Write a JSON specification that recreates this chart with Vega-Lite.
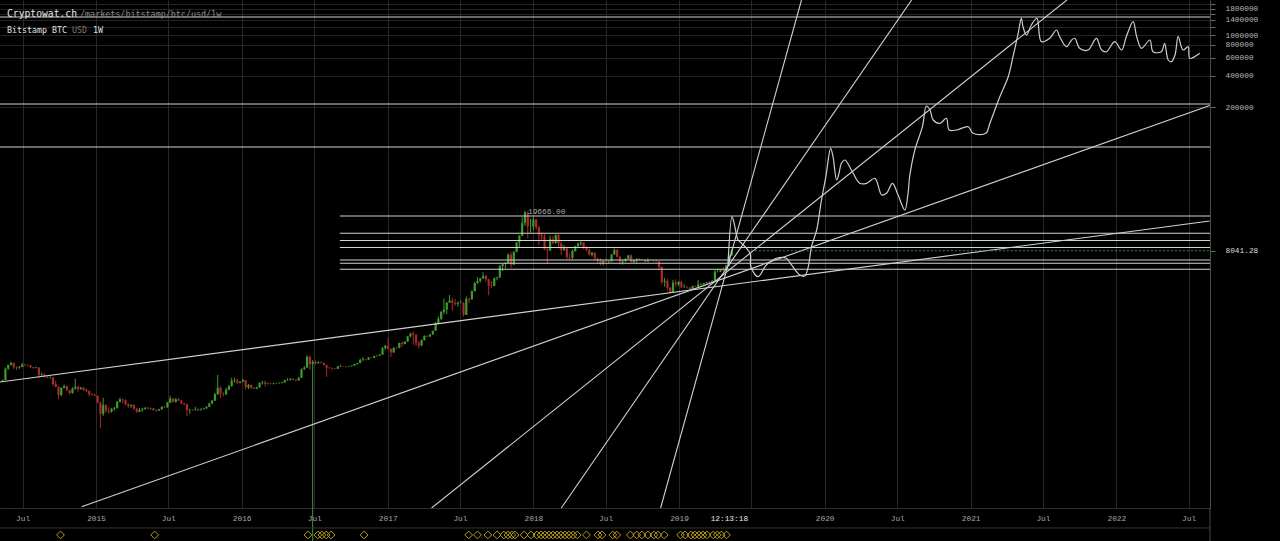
{
"$schema": "https://vega.github.io/schema/vega-lite/v6.json",
"width": 1210, "height": 508, "padding": {"left": 0, "top": 0, "right": 70, "bottom": 33}, "autosize": {"type": "none"},
"background": "#000000",
"config": {"view": {"stroke": null}, "text": {"font": "DejaVu Sans Mono"}},
"datasets": {
"one": [{}],
"candles": [
{"t":"2014-05-12","o":440,"h":452,"l":432,"c":447},{"t":"2014-05-19","o":447,"h":590,"l":445,"c":575},{"t":"2014-05-26","o":575,"h":630,"l":560,"c":625},{"t":"2014-06-02","o":625,"h":675,"l":620,"c":655},{"t":"2014-06-09","o":655,"h":660,"l":570,"c":595},{"t":"2014-06-16","o":595,"h":610,"l":560,"c":590},{"t":"2014-06-23","o":590,"h":610,"l":575,"c":600},{"t":"2014-06-30","o":600,"h":655,"l":595,"c":630},{"t":"2014-07-07","o":630,"h":640,"l":610,"c":625},{"t":"2014-07-14","o":625,"h":630,"l":605,"c":620},{"t":"2014-07-21","o":620,"h":625,"l":585,"c":595},{"t":"2014-07-28","o":595,"h":600,"l":575,"c":585},{"t":"2014-08-04","o":585,"h":600,"l":580,"c":590},{"t":"2014-08-11","o":590,"h":595,"l":470,"c":500},{"t":"2014-08-18","o":500,"h":530,"l":480,"c":505},{"t":"2014-08-25","o":505,"h":520,"l":475,"c":480},{"t":"2014-09-01","o":480,"h":490,"l":465,"c":475},{"t":"2014-09-08","o":475,"h":485,"l":460,"c":475},{"t":"2014-09-15","o":475,"h":480,"l":390,"c":410},{"t":"2014-09-22","o":410,"h":440,"l":380,"c":385},{"t":"2014-09-29","o":385,"h":390,"l":290,"c":320},{"t":"2014-10-06","o":320,"h":380,"l":310,"c":375},{"t":"2014-10-13","o":375,"h":405,"l":370,"c":390},{"t":"2014-10-20","o":390,"h":395,"l":350,"c":355},{"t":"2014-10-27","o":355,"h":360,"l":320,"c":335},{"t":"2014-11-03","o":335,"h":380,"l":330,"c":370},{"t":"2014-11-10","o":370,"h":460,"l":360,"c":385},{"t":"2014-11-17","o":385,"h":390,"l":345,"c":365},{"t":"2014-11-24","o":365,"h":385,"l":360,"c":375},{"t":"2014-12-01","o":375,"h":385,"l":350,"c":360},{"t":"2014-12-08","o":360,"h":370,"l":340,"c":350},{"t":"2014-12-15","o":350,"h":355,"l":310,"c":325},{"t":"2014-12-22","o":325,"h":335,"l":315,"c":320},{"t":"2014-12-29","o":320,"h":330,"l":310,"c":315},
{"t":"2015-01-05","o":315,"h":315,"l":265,"c":270},{"t":"2015-01-12","o":270,"h":275,"l":152,"c":210},{"t":"2015-01-19","o":210,"h":300,"l":200,"c":255},{"t":"2015-01-26","o":255,"h":260,"l":215,"c":225},{"t":"2015-02-02","o":225,"h":245,"l":210,"c":220},{"t":"2015-02-09","o":220,"h":240,"l":215,"c":235},{"t":"2015-02-16","o":235,"h":245,"l":225,"c":240},{"t":"2015-02-23","o":240,"h":280,"l":235,"c":275},{"t":"2015-03-02","o":275,"h":300,"l":270,"c":290},{"t":"2015-03-09","o":290,"h":295,"l":265,"c":285},{"t":"2015-03-16","o":285,"h":290,"l":255,"c":260},{"t":"2015-03-23","o":260,"h":265,"l":240,"c":250},{"t":"2015-03-30","o":250,"h":260,"l":240,"c":255},{"t":"2015-04-06","o":255,"h":260,"l":230,"c":235},{"t":"2015-04-13","o":235,"h":240,"l":215,"c":220},{"t":"2015-04-20","o":220,"h":240,"l":218,"c":230},{"t":"2015-04-27","o":230,"h":240,"l":220,"c":235},{"t":"2015-05-04","o":235,"h":245,"l":230,"c":240},{"t":"2015-05-11","o":240,"h":245,"l":232,"c":237},{"t":"2015-05-18","o":237,"h":242,"l":230,"c":238},{"t":"2015-05-25","o":238,"h":240,"l":225,"c":228},{"t":"2015-06-01","o":228,"h":232,"l":220,"c":225},{"t":"2015-06-08","o":225,"h":235,"l":224,"c":232},{"t":"2015-06-15","o":232,"h":250,"l":230,"c":245},{"t":"2015-06-22","o":245,"h":250,"l":240,"c":243},{"t":"2015-06-29","o":243,"h":275,"l":240,"c":270},{"t":"2015-07-06","o":270,"h":315,"l":265,"c":295},{"t":"2015-07-13","o":295,"h":300,"l":270,"c":275},{"t":"2015-07-20","o":275,"h":300,"l":270,"c":290},{"t":"2015-07-27","o":290,"h":298,"l":280,"c":282},{"t":"2015-08-03","o":282,"h":285,"l":260,"c":264},{"t":"2015-08-10","o":264,"h":268,"l":255,"c":260},{"t":"2015-08-17","o":260,"h":265,"l":200,"c":228},{"t":"2015-08-24","o":228,"h":235,"l":210,"c":230},{"t":"2015-08-31","o":230,"h":232,"l":225,"c":228},{"t":"2015-09-07","o":228,"h":245,"l":225,"c":230},{"t":"2015-09-14","o":230,"h":235,"l":225,"c":232},{"t":"2015-09-21","o":232,"h":238,"l":225,"c":234},{"t":"2015-09-28","o":234,"h":240,"l":230,"c":237},{"t":"2015-10-05","o":237,"h":250,"l":235,"c":245},{"t":"2015-10-12","o":245,"h":270,"l":243,"c":265},{"t":"2015-10-19","o":265,"h":285,"l":260,"c":282},{"t":"2015-10-26","o":282,"h":335,"l":280,"c":325},{"t":"2015-11-02","o":325,"h":500,"l":320,"c":375},{"t":"2015-11-09","o":375,"h":390,"l":300,"c":330},{"t":"2015-11-16","o":330,"h":340,"l":310,"c":325},{"t":"2015-11-23","o":325,"h":375,"l":320,"c":360},{"t":"2015-11-30","o":360,"h":400,"l":355,"c":390},{"t":"2015-12-07","o":390,"h":470,"l":385,"c":440},{"t":"2015-12-14","o":440,"h":470,"l":420,"c":445},{"t":"2015-12-21","o":445,"h":460,"l":410,"c":420},{"t":"2015-12-28","o":420,"h":435,"l":415,"c":430},
{"t":"2016-01-04","o":430,"h":460,"l":425,"c":445},{"t":"2016-01-11","o":445,"h":450,"l":360,"c":380},{"t":"2016-01-18","o":380,"h":410,"l":365,"c":400},{"t":"2016-01-25","o":400,"h":405,"l":365,"c":375},{"t":"2016-02-01","o":375,"h":380,"l":365,"c":370},{"t":"2016-02-08","o":370,"h":385,"l":365,"c":380},{"t":"2016-02-15","o":380,"h":425,"l":375,"c":420},{"t":"2016-02-22","o":420,"h":440,"l":405,"c":425},{"t":"2016-02-29","o":425,"h":440,"l":385,"c":410},{"t":"2016-03-07","o":410,"h":420,"l":405,"c":412},{"t":"2016-03-14","o":412,"h":420,"l":405,"c":410},{"t":"2016-03-21","o":410,"h":420,"l":405,"c":415},{"t":"2016-03-28","o":415,"h":420,"l":410,"c":417},{"t":"2016-04-04","o":417,"h":425,"l":412,"c":420},{"t":"2016-04-11","o":420,"h":430,"l":415,"c":425},{"t":"2016-04-18","o":425,"h":450,"l":420,"c":445},{"t":"2016-04-25","o":445,"h":465,"l":440,"c":450},{"t":"2016-05-02","o":450,"h":465,"l":440,"c":460},{"t":"2016-05-09","o":460,"h":462,"l":445,"c":450},{"t":"2016-05-16","o":450,"h":455,"l":435,"c":445},{"t":"2016-05-23","o":445,"h":480,"l":440,"c":470},{"t":"2016-05-30","o":470,"h":580,"l":468,"c":570},{"t":"2016-06-06","o":570,"h":610,"l":560,"c":590},{"t":"2016-06-13","o":590,"h":780,"l":585,"c":750},{"t":"2016-06-20","o":750,"h":770,"l":560,"c":640},{"t":"2016-06-27","o":640,"h":700,"l":5,"c":670},{"t":"2016-07-04","o":670,"h":690,"l":630,"c":650},{"t":"2016-07-11","o":650,"h":680,"l":645,"c":665},{"t":"2016-07-18","o":665,"h":675,"l":650,"c":655},{"t":"2016-07-25","o":655,"h":660,"l":620,"c":625},{"t":"2016-08-01","o":625,"h":630,"l":480,"c":590},{"t":"2016-08-08","o":590,"h":600,"l":575,"c":585},{"t":"2016-08-15","o":585,"h":590,"l":565,"c":580},{"t":"2016-08-22","o":580,"h":585,"l":570,"c":575},{"t":"2016-08-29","o":575,"h":615,"l":570,"c":605},{"t":"2016-09-05","o":605,"h":630,"l":600,"c":610},{"t":"2016-09-12","o":610,"h":612,"l":600,"c":608},{"t":"2016-09-19","o":608,"h":612,"l":590,"c":605},{"t":"2016-09-26","o":605,"h":615,"l":600,"c":610},{"t":"2016-10-03","o":610,"h":625,"l":605,"c":618},{"t":"2016-10-10","o":618,"h":645,"l":615,"c":640},{"t":"2016-10-17","o":640,"h":655,"l":630,"c":655},{"t":"2016-10-24","o":655,"h":720,"l":650,"c":700},{"t":"2016-10-31","o":700,"h":745,"l":680,"c":710},{"t":"2016-11-07","o":710,"h":720,"l":690,"c":705},{"t":"2016-11-14","o":705,"h":750,"l":700,"c":740},{"t":"2016-11-21","o":740,"h":745,"l":725,"c":735},{"t":"2016-11-28","o":735,"h":770,"l":730,"c":765},{"t":"2016-12-05","o":765,"h":775,"l":755,"c":770},{"t":"2016-12-12","o":770,"h":795,"l":765,"c":790},{"t":"2016-12-19","o":790,"h":935,"l":785,"c":910},{"t":"2016-12-26","o":910,"h":980,"l":880,"c":960},
{"t":"2017-01-02","o":960,"h":1150,"l":880,"c":900},{"t":"2017-01-09","o":900,"h":905,"l":750,"c":830},{"t":"2017-01-16","o":830,"h":930,"l":820,"c":920},{"t":"2017-01-23","o":920,"h":925,"l":890,"c":915},{"t":"2017-01-30","o":915,"h":1030,"l":910,"c":1025},{"t":"2017-02-06","o":1025,"h":1060,"l":940,"c":1000},{"t":"2017-02-13","o":1000,"h":1060,"l":990,"c":1055},{"t":"2017-02-20","o":1055,"h":1200,"l":1050,"c":1185},{"t":"2017-02-27","o":1185,"h":1290,"l":1160,"c":1260},{"t":"2017-03-06","o":1260,"h":1330,"l":980,"c":1230},{"t":"2017-03-13","o":1230,"h":1260,"l":950,"c":1020},{"t":"2017-03-20","o":1020,"h":1070,"l":900,"c":970},{"t":"2017-03-27","o":970,"h":1110,"l":950,"c":1090},{"t":"2017-04-03","o":1090,"h":1210,"l":1080,"c":1200},{"t":"2017-04-10","o":1200,"h":1210,"l":1170,"c":1180},{"t":"2017-04-17","o":1180,"h":1250,"l":1175,"c":1240},{"t":"2017-04-24","o":1240,"h":1350,"l":1230,"c":1340},{"t":"2017-05-01","o":1340,"h":1640,"l":1335,"c":1600},{"t":"2017-05-08","o":1600,"h":1850,"l":1550,"c":1760},{"t":"2017-05-15","o":1760,"h":2100,"l":1700,"c":2050},{"t":"2017-05-22","o":2050,"h":2760,"l":1950,"c":2160},{"t":"2017-05-29","o":2160,"h":2550,"l":1950,"c":2520},{"t":"2017-06-05","o":2520,"h":2990,"l":2500,"c":2650},{"t":"2017-06-12","o":2650,"h":2800,"l":2100,"c":2500},{"t":"2017-06-19","o":2500,"h":2750,"l":2350,"c":2450},{"t":"2017-06-26","o":2450,"h":2600,"l":2300,"c":2500},{"t":"2017-07-03","o":2500,"h":2650,"l":2480,"c":2510},{"t":"2017-07-10","o":2510,"h":2550,"l":1850,"c":1920},{"t":"2017-07-17","o":1920,"h":2900,"l":1910,"c":2750},{"t":"2017-07-24","o":2750,"h":2820,"l":2500,"c":2720},{"t":"2017-07-31","o":2720,"h":3300,"l":2680,"c":3250},{"t":"2017-08-07","o":3250,"h":4000,"l":3230,"c":3900},{"t":"2017-08-14","o":3900,"h":4480,"l":3850,"c":4100},{"t":"2017-08-21","o":4100,"h":4380,"l":3950,"c":4350},{"t":"2017-08-28","o":4350,"h":4980,"l":4300,"c":4580},{"t":"2017-09-04","o":4580,"h":4700,"l":4000,"c":4250},{"t":"2017-09-11","o":4250,"h":4300,"l":2970,"c":3690},{"t":"2017-09-18","o":3690,"h":4100,"l":3500,"c":3660},{"t":"2017-09-25","o":3660,"h":4400,"l":3650,"c":4360},{"t":"2017-10-02","o":4360,"h":4500,"l":4150,"c":4430},{"t":"2017-10-09","o":4430,"h":5850,"l":4400,"c":5690},{"t":"2017-10-16","o":5690,"h":6000,"l":5100,"c":6000},{"t":"2017-10-23","o":6000,"h":6200,"l":5400,"c":6130},{"t":"2017-10-30","o":6130,"h":7600,"l":6100,"c":7360},{"t":"2017-11-06","o":7360,"h":7900,"l":5500,"c":5900},{"t":"2017-11-13","o":5900,"h":8000,"l":5850,"c":7800},{"t":"2017-11-20","o":7800,"h":9750,"l":7800,"c":9700},{"t":"2017-11-27","o":9700,"h":11400,"l":8700,"c":11250},{"t":"2017-12-04","o":11250,"h":17000,"l":11100,"c":15000},{"t":"2017-12-11","o":15000,"h":19666,"l":14000,"c":19000},{"t":"2017-12-18","o":19000,"h":19300,"l":10700,"c":13800},{"t":"2017-12-25","o":13800,"h":16500,"l":12000,"c":13800},
{"t":"2018-01-01","o":13800,"h":17200,"l":12800,"c":16200},{"t":"2018-01-08","o":16200,"h":16300,"l":12800,"c":13600},{"t":"2018-01-15","o":13600,"h":14000,"l":9100,"c":11500},{"t":"2018-01-22","o":11500,"h":12100,"l":10000,"c":11100},{"t":"2018-01-29","o":11100,"h":11700,"l":8200,"c":8300},{"t":"2018-02-05","o":8300,"h":8700,"l":6000,"c":8100},{"t":"2018-02-12","o":8100,"h":11300,"l":8000,"c":10400},{"t":"2018-02-19","o":10400,"h":11200,"l":9300,"c":9600},{"t":"2018-02-26","o":9600,"h":11600,"l":9400,"c":11400},{"t":"2018-03-05","o":11400,"h":11700,"l":8400,"c":9500},{"t":"2018-03-12","o":9500,"h":9950,"l":7300,"c":8200},{"t":"2018-03-19","o":8200,"h":9100,"l":8000,"c":8500},{"t":"2018-03-26","o":8500,"h":8550,"l":6600,"c":7000},{"t":"2018-04-02","o":7000,"h":7500,"l":6550,"c":6900},{"t":"2018-04-09","o":6900,"h":8300,"l":6650,"c":8000},{"t":"2018-04-16","o":8000,"h":8950,"l":7850,"c":8900},{"t":"2018-04-23","o":8900,"h":9750,"l":8500,"c":9400},{"t":"2018-04-30","o":9400,"h":9950,"l":9000,"c":9650},{"t":"2018-05-07","o":9650,"h":9700,"l":8300,"c":8700},{"t":"2018-05-14","o":8700,"h":8900,"l":7950,"c":8200},{"t":"2018-05-21","o":8200,"h":8500,"l":7250,"c":7350},{"t":"2018-05-28","o":7350,"h":7750,"l":7050,"c":7700},{"t":"2018-06-04","o":7700,"h":7800,"l":6600,"c":6750},{"t":"2018-06-11","o":6750,"h":6850,"l":6120,"c":6450},{"t":"2018-06-18","o":6450,"h":6800,"l":5800,"c":6150},{"t":"2018-06-25","o":6150,"h":6500,"l":5800,"c":6400},{"t":"2018-07-02","o":6400,"h":6750,"l":6250,"c":6300},{"t":"2018-07-09","o":6300,"h":6450,"l":6100,"c":6350},{"t":"2018-07-16","o":6350,"h":7500,"l":6300,"c":7400},{"t":"2018-07-23","o":7400,"h":8500,"l":7350,"c":8200},{"t":"2018-07-30","o":8200,"h":8300,"l":6950,"c":7000},{"t":"2018-08-06","o":7000,"h":7150,"l":5900,"c":6300},{"t":"2018-08-13","o":6300,"h":6600,"l":5900,"c":6400},{"t":"2018-08-20","o":6400,"h":6800,"l":6250,"c":6700},{"t":"2018-08-27","o":6700,"h":7300,"l":6650,"c":7250},{"t":"2018-09-03","o":7250,"h":7400,"l":6250,"c":6250},{"t":"2018-09-10","o":6250,"h":6550,"l":6150,"c":6500},{"t":"2018-09-17","o":6500,"h":6800,"l":6100,"c":6700},{"t":"2018-09-24","o":6700,"h":6800,"l":6400,"c":6600},{"t":"2018-10-01","o":6600,"h":6700,"l":6500,"c":6550},{"t":"2018-10-08","o":6550,"h":6600,"l":6200,"c":6300},{"t":"2018-10-15","o":6300,"h":6800,"l":6300,"c":6450},{"t":"2018-10-22","o":6450,"h":6550,"l":6400,"c":6450},{"t":"2018-10-29","o":6450,"h":6500,"l":6300,"c":6400},{"t":"2018-11-05","o":6400,"h":6550,"l":6300,"c":6350},{"t":"2018-11-12","o":6350,"h":6400,"l":5200,"c":5600},{"t":"2018-11-19","o":5600,"h":5650,"l":3800,"c":4000},{"t":"2018-11-26","o":4000,"h":4400,"l":3600,"c":4100},{"t":"2018-12-03","o":4100,"h":4300,"l":3300,"c":3500},{"t":"2018-12-10","o":3500,"h":3600,"l":3150,"c":3200},{"t":"2018-12-17","o":3200,"h":4200,"l":3200,"c":3950},{"t":"2018-12-24","o":3950,"h":4250,"l":3550,"c":3800},{"t":"2018-12-31","o":3800,"h":4100,"l":3650,"c":4000},
{"t":"2019-01-07","o":4000,"h":4100,"l":3500,"c":3550},{"t":"2019-01-14","o":3550,"h":3800,"l":3480,"c":3560},{"t":"2019-01-21","o":3560,"h":3650,"l":3450,"c":3530},{"t":"2019-01-28","o":3530,"h":3550,"l":3350,"c":3410},{"t":"2019-02-04","o":3410,"h":3680,"l":3380,"c":3650},{"t":"2019-02-11","o":3650,"h":3700,"l":3580,"c":3600},{"t":"2019-02-18","o":3600,"h":4200,"l":3580,"c":3800},{"t":"2019-02-25","o":3800,"h":3900,"l":3700,"c":3810},{"t":"2019-03-04","o":3810,"h":3920,"l":3700,"c":3900},{"t":"2019-03-11","o":3900,"h":4000,"l":3850,"c":3980},{"t":"2019-03-18","o":3980,"h":4050,"l":3900,"c":4000},{"t":"2019-03-25","o":4000,"h":4150,"l":3950,"c":4100},{"t":"2019-04-01","o":4100,"h":5300,"l":4100,"c":5050},{"t":"2019-04-08","o":5050,"h":5400,"l":4950,"c":5060},{"t":"2019-04-15","o":5060,"h":5330,"l":5000,"c":5300},{"t":"2019-04-22","o":5300,"h":5600,"l":5050,"c":5200},{"t":"2019-04-29","o":5200,"h":5900,"l":5150,"c":5750},{"t":"2019-05-06","o":5750,"h":7500,"l":5700,"c":7250},{"t":"2019-05-13","o":7250,"h":8400,"l":7200,"c":8041.28}
],
"lines": [
{"id":"h1","t":"2014-04-01","p":1495700},{"id":"h1","t":"2022-09-30","p":1495700},
{"id":"h2","t":"2014-04-01","p":213900},{"id":"h2","t":"2022-09-30","p":213900},
{"id":"h3","t":"2014-04-01","p":81780},{"id":"h3","t":"2022-09-30","p":81780},
{"id":"h4","t":"2016-09-03","p":17485},{"id":"h4","t":"2022-09-30","p":17485},
{"id":"h5","t":"2016-09-03","p":11880},{"id":"h5","t":"2022-09-30","p":11880},
{"id":"h6","t":"2016-09-03","p":10113},{"id":"h6","t":"2022-09-30","p":10113},
{"id":"h7","t":"2016-09-03","p":8648},{"id":"h7","t":"2022-09-30","p":8648},
{"id":"h8","t":"2016-09-03","p":6540},{"id":"h8","t":"2022-09-30","p":6540},
{"id":"h9","t":"2016-09-03","p":6074},{"id":"h9","t":"2022-09-30","p":6074},
{"id":"h10","t":"2016-09-03","p":5313},{"id":"h10","t":"2022-09-30","p":5313},
{"id":"d1","t":"2014-05-05","p":427.9},{"id":"d1","t":"2022-08-23","p":15640},
{"id":"d2","t":"2014-11-26","p":26.3},{"id":"d2","t":"2022-08-23","p":206800},
{"id":"d3","t":"2017-04-21","p":25.6},{"id":"d3","t":"2021-08-30","p":2187000},
{"id":"d4","t":"2018-03-12","p":25.6},{"id":"d4","t":"2020-08-06","p":2187000},
{"id":"d5","t":"2018-11-16","p":25.6},{"id":"d5","t":"2019-11-04","p":2187000}
],
"proj": [
{"i":1,"t":"2019-05-04","p":6076},{"i":2,"t":"2019-05-14","p":17219},{"i":3,"t":"2019-05-21","p":13766},{"i":4,"t":"2019-05-29","p":10226},{"i":5,"t":"2019-06-07","p":9500},{"i":6,"t":"2019-06-28","p":7599},{"i":7,"t":"2019-06-30","p":5631},{"i":8,"t":"2019-07-18","p":4503},{"i":9,"t":"2019-08-08","p":5850},{"i":10,"t":"2019-09-02","p":6795},{"i":11,"t":"2019-09-27","p":6795},{"i":12,"t":"2019-10-10","p":5850},{"i":13,"t":"2019-10-31","p":4677},{"i":14,"t":"2019-11-12","p":4574},{"i":15,"t":"2019-11-21","p":5631},{"i":16,"t":"2019-11-29","p":8806},{"i":17,"t":"2019-12-12","p":12792},{"i":18,"t":"2019-12-24","p":25010},{"i":19,"t":"2020-01-04","p":42110},{"i":20,"t":"2020-01-16","p":79450},{"i":21,"t":"2020-01-22","p":65840},{"i":22,"t":"2020-01-31","p":39120},{"i":23,"t":"2020-02-06","p":45440},{"i":24,"t":"2020-02-12","p":56820},{"i":25,"t":"2020-02-21","p":61170},{"i":26,"t":"2020-03-08","p":48920},{"i":27,"t":"2020-03-29","p":36330},{"i":28,"t":"2020-04-15","p":36330},{"i":29,"t":"2020-05-06","p":40620},{"i":30,"t":"2020-05-23","p":27970},{"i":31,"t":"2020-06-04","p":29050},{"i":32,"t":"2020-06-19","p":36330},{"i":33,"t":"2020-07-03","p":27970},{"i":34,"t":"2020-07-20","p":20000},{"i":35,"t":"2020-07-28","p":29050},{"i":36,"t":"2020-08-01","p":42110},{"i":37,"t":"2020-08-14","p":76480},{"i":38,"t":"2020-09-02","p":128770},{"i":39,"t":"2020-09-12","p":204500},{"i":40,"t":"2020-09-21","p":187000},{"i":41,"t":"2020-09-29","p":149560},{"i":42,"t":"2020-10-16","p":138920},{"i":43,"t":"2020-11-01","p":155350},{"i":44,"t":"2020-11-08","p":119640},{"i":45,"t":"2020-11-26","p":119640},{"i":46,"t":"2020-12-26","p":128770},{"i":47,"t":"2021-01-07","p":111100},{"i":48,"t":"2021-02-08","p":111100},{"i":49,"t":"2021-02-18","p":138920},{"i":50,"t":"2021-03-15","p":251800},{"i":51,"t":"2021-04-05","p":393800},{"i":52,"t":"2021-04-17","p":615700},{"i":53,"t":"2021-04-30","p":1038900},{"i":54,"t":"2021-05-08","p":1452700},{"i":55,"t":"2021-05-12","p":1204000},{"i":56,"t":"2021-05-21","p":1000300},{"i":57,"t":"2021-06-02","p":1251000},{"i":58,"t":"2021-06-16","p":1452700},{"i":59,"t":"2021-06-27","p":861000},{"i":60,"t":"2021-07-18","p":929000},{"i":61,"t":"2021-08-04","p":1118500},{"i":62,"t":"2021-08-12","p":962900},{"i":63,"t":"2021-08-29","p":770000},{"i":64,"t":"2021-09-11","p":894300},{"i":65,"t":"2021-09-19","p":929000},{"i":66,"t":"2021-10-01","p":743000},{"i":67,"t":"2021-10-22","p":715200},{"i":68,"t":"2021-11-12","p":929000},{"i":69,"t":"2021-11-25","p":715200},{"i":70,"t":"2021-12-07","p":688400},{"i":71,"t":"2021-12-28","p":861000},{"i":72,"t":"2022-01-14","p":715200},{"i":73,"t":"2022-01-26","p":962900},{"i":74,"t":"2022-02-12","p":1346400},{"i":75,"t":"2022-02-21","p":962900},{"i":76,"t":"2022-03-05","p":743000},{"i":77,"t":"2022-03-26","p":894300},{"i":78,"t":"2022-04-03","p":688400},{"i":79,"t":"2022-04-24","p":688400},{"i":80,"t":"2022-05-02","p":830800},{"i":81,"t":"2022-05-11","p":571900},{"i":82,"t":"2022-05-19","p":550700},{"i":83,"t":"2022-05-28","p":639400},{"i":84,"t":"2022-06-05","p":962900},{"i":85,"t":"2022-06-17","p":715200},{"i":86,"t":"2022-06-30","p":770000},{"i":87,"t":"2022-07-04","p":593900},{"i":88,"t":"2022-07-29","p":664200}
],
"events": [
{"t":"2014-10-04"},{"t":"2015-05-28"},{"t":"2016-06-15"},{"t":"2016-07-10"},{"t":"2016-07-20"},{"t":"2016-07-31"},{"t":"2016-08-12"},{"t":"2016-11-03"},{"t":"2017-07-23"},{"t":"2017-08-14"},{"t":"2017-09-09"},{"t":"2017-10-02"},{"t":"2017-10-19"},{"t":"2017-10-29"},{"t":"2017-11-08"},{"t":"2017-11-16"},{"t":"2017-12-09"},{"t":"2017-12-26"},{"t":"2018-01-10"},{"t":"2018-01-20"},{"t":"2018-01-30"},{"t":"2018-02-09"},{"t":"2018-02-19"},{"t":"2018-03-01"},{"t":"2018-03-11"},{"t":"2018-03-21"},{"t":"2018-03-31"},{"t":"2018-04-10"},{"t":"2018-04-21"},{"t":"2018-05-14"},{"t":"2018-06-12"},{"t":"2018-06-22"},{"t":"2018-07-19"},{"t":"2018-07-29"},{"t":"2018-09-01"},{"t":"2018-09-17"},{"t":"2018-09-30"},{"t":"2018-10-15"},{"t":"2018-10-30"},{"t":"2018-11-09"},{"t":"2018-11-25"},{"t":"2019-01-05"},{"t":"2019-01-16"},{"t":"2019-01-31"},{"t":"2019-02-10"},{"t":"2019-02-20"},{"t":"2019-03-02"},{"t":"2019-03-12"},{"t":"2019-03-28"},{"t":"2019-04-07"},{"t":"2019-04-17"},{"t":"2019-04-30"}
]
},
"layer": [
{
"data": {"name": "candles"},
"mark": {"type": "rule", "strokeWidth": 1},
"encoding": {
"x": {"field": "t", "type": "temporal", "title": null,
"scale": {"type": "utc", "domain": [{"year": 2014, "month": 5, "date": 5, "hours": 10, "utc": true}, {"year": 2022, "month": 8, "date": 23, "hours": 17, "utc": true}]},
"axis": {"values": [{"year":2014,"month":7,"date":1,"utc":true},{"year":2015,"month":1,"date":1,"utc":true},{"year":2015,"month":7,"date":1,"utc":true},{"year":2016,"month":1,"date":1,"utc":true},{"year":2016,"month":7,"date":1,"utc":true},{"year":2017,"month":1,"date":1,"utc":true},{"year":2017,"month":7,"date":1,"utc":true},{"year":2018,"month":1,"date":1,"utc":true},{"year":2018,"month":7,"date":1,"utc":true},{"year":2019,"month":1,"date":1,"utc":true},{"year":2019,"month":5,"date":6,"utc":true},{"year":2019,"month":7,"date":1,"utc":true},{"year":2020,"month":1,"date":1,"utc":true},{"year":2020,"month":7,"date":1,"utc":true},{"year":2021,"month":1,"date":1,"utc":true},{"year":2021,"month":7,"date":1,"utc":true},{"year":2022,"month":1,"date":1,"utc":true},{"year":2022,"month":7,"date":1,"utc":true}],
"labelExpr": "utcmonth(datum.value) == 0 ? utcFormat(datum.value, '%Y') : (utcmonth(datum.value) == 6 ? (utcyear(datum.value) == 2019 ? '' : 'Jul') : '12:13:18')",
"labelOverlap": false, "labelFlush": false, "grid": true, "gridColor": "#272727",
"gridOpacity": {"condition": {"test": "utcmonth(datum.value) == 4", "value": 0}, "value": 1},
"ticks": false, "domainColor": "#2e2e2e", "labelPadding": 6,
"labelColor": {"condition": {"test": "utcmonth(datum.value) == 4", "value": "#e8e8e8"}, "value": "#a8a8a8"},
"labelFont": "Liberation Mono", "labelFontSize": 7.8}},
"y": {"field": "l", "type": "quantitative", "title": null,
"scale": {"type": "log", "domain": [25.58, 2187000], "nice": false, "zero": false},
"axis": {"orient": "right", "values": [200000, 400000, 600000, 800000, 1000000, 1200000, 1400000, 1600000, 1800000, 2000000, 8041.28],
"labelExpr": "datum.value == 8041.28 ? '8041.28' : (indexof([200000,400000,600000,800000,1000000,1400000,1800000], datum.value) >= 0 ? format(datum.value, 'd') : '')",
"labelOverlap": false, "grid": true, "gridColor": "#242424",
"gridOpacity": {"condition": {"test": "datum.value < 100000", "value": 0}, "value": 1},
"domainColor": "#4a4a4a",
"tickColor": {"condition": {"test": "datum.value < 100000", "value": "#3a8f3a"}, "value": "#6a6a6a"},
"tickSize": 5, "labelPadding": 10,
"labelColor": {"condition": {"test": "datum.value < 100000", "value": "#dddddd"}, "value": "#b8b8b8"},
"labelFont": "Liberation Mono", "labelFontSize": 7.8}},
"y2": {"field": "h"},
"color": {"condition": {"test": "datum.c >= datum.o", "value": "#3c9c2c"}, "value": "#a82a2a"}
}
},
{
"data": {"name": "candles"},
"mark": {"type": "rule", "strokeWidth": 2.2},
"encoding": {
"x": {"field": "t", "type": "temporal", "title": null},
"y": {"field": "o", "type": "quantitative", "title": null},
"y2": {"field": "c"},
"color": {"condition": {"test": "datum.c >= datum.o", "value": "#3c9c2c"}, "value": "#a82a2a"}
}
},
{
"data": {"name": "lines"},
"mark": {"type": "line", "clip": true, "color": "#d2d2d2", "strokeWidth": 1.1},
"encoding": {
"x": {"field": "t", "type": "temporal", "title": null},
"y": {"field": "p", "type": "quantitative", "title": null},
"detail": {"field": "id"}
}
},
{
"data": {"name": "proj"},
"mark": {"type": "line", "clip": true, "color": "#cdcdcd", "strokeWidth": 1.2, "interpolate": "catmull-rom"},
"encoding": {
"x": {"field": "t", "type": "temporal", "title": null},
"y": {"field": "p", "type": "quantitative", "title": null},
"order": {"field": "i", "type": "quantitative"}
}
},
{
"data": {"name": "one"},
"mark": {"type": "rule", "strokeDash": [2, 2], "color": "#3a8f3a", "strokeWidth": 1},
"encoding": {
"x": {"datum": {"year": 2019, "month": 6, "date": 20, "utc": true}, "type": "temporal"},
"x2": {"datum": {"year": 2022, "month": 8, "date": 23, "hours": 17, "utc": true}},
"y": {"datum": 8041.28, "type": "quantitative"}
}
},
{
"data": {"name": "one"},
"mark": {"type": "text", "align": "left", "baseline": "alphabetic", "dx": 3, "dy": 3, "fontSize": 7.8, "color": "#aaaaaa", "font": "Liberation Mono"},
"encoding": {
"x": {"datum": {"year": 2017, "month": 12, "date": 11, "utc": true}, "type": "temporal"},
"y": {"datum": 19666, "type": "quantitative"},
"text": {"value": "19666.00"}
}
},
{
"data": {"name": "one"},
"mark": {"type": "text", "align": "left", "baseline": "alphabetic", "dx": 7, "dy": 17, "fontSize": 9.7, "color": "#e6e6e6", "font": "DejaVu Sans Mono"},
"encoding": {
"x": {"datum": {"year": 2014, "month": 5, "date": 5, "hours": 10, "utc": true}, "type": "temporal"},
"y": {"datum": 2187000, "type": "quantitative"},
"text": {"value": "Cryptowat.ch"}
}
},
{
"data": {"name": "one"},
"mark": {"type": "text", "align": "left", "baseline": "alphabetic", "dx": 80, "dy": 17, "fontSize": 8.4, "color": "#8a8a8a", "font": "DejaVu Sans Mono"},
"encoding": {
"x": {"datum": {"year": 2014, "month": 5, "date": 5, "hours": 10, "utc": true}, "type": "temporal"},
"y": {"datum": 2187000, "type": "quantitative"},
"text": {"value": "/markets/bitstamp/btc/usd/1w"}
}
},
{
"data": {"name": "one"},
"mark": {"type": "text", "align": "left", "baseline": "alphabetic", "dx": 7, "dy": 33, "fontSize": 8.3, "color": "#e0e0e0", "font": "DejaVu Sans Mono"},
"encoding": {
"x": {"datum": {"year": 2014, "month": 5, "date": 5, "hours": 10, "utc": true}, "type": "temporal"},
"y": {"datum": 2187000, "type": "quantitative"},
"text": {"value": "Bitstamp BTC"}
}
},
{
"data": {"name": "one"},
"mark": {"type": "text", "align": "left", "baseline": "alphabetic", "dx": 72, "dy": 33, "fontSize": 8.3, "color": "#7a7a7a", "font": "DejaVu Sans Mono"},
"encoding": {
"x": {"datum": {"year": 2014, "month": 5, "date": 5, "hours": 10, "utc": true}, "type": "temporal"},
"y": {"datum": 2187000, "type": "quantitative"},
"text": {"value": "USD"}
}
},
{
"data": {"name": "one"},
"mark": {"type": "text", "align": "left", "baseline": "alphabetic", "dx": 93, "dy": 33, "fontSize": 8.3, "color": "#e0e0e0", "font": "DejaVu Sans Mono"},
"encoding": {
"x": {"datum": {"year": 2014, "month": 5, "date": 5, "hours": 10, "utc": true}, "type": "temporal"},
"y": {"datum": 2187000, "type": "quantitative"},
"text": {"value": "1W"}
}
},
{
"data": {"name": "one"},
"mark": {"type": "rule", "color": "#333333", "strokeWidth": 1},
"encoding": {
"x": {"datum": {"year": 2014, "month": 5, "date": 5, "hours": 10, "utc": true}, "type": "temporal"},
"x2": {"datum": {"year": 2022, "month": 8, "date": 23, "hours": 17, "utc": true}},
"y": {"datum": 16.36, "type": "quantitative"}
}
},
{
"data": {"name": "one"},
"mark": {"type": "rule", "color": "#4a4a4a", "strokeWidth": 1},
"encoding": {
"x": {"datum": {"year": 2022, "month": 8, "date": 23, "hours": 17, "utc": true}, "type": "temporal"},
"y": {"datum": 25.58, "type": "quantitative"},
"y2": {"datum": 8}
}
},
{
"data": {"name": "events"},
"mark": {"type": "point", "shape": "diamond", "filled": false, "size": 60, "strokeWidth": 1, "color": "#b89b1a", "opacity": 1},
"encoding": {
"x": {"field": "t", "type": "temporal", "title": null},
"y": {"datum": 14, "type": "quantitative"}
}
}
]
}
